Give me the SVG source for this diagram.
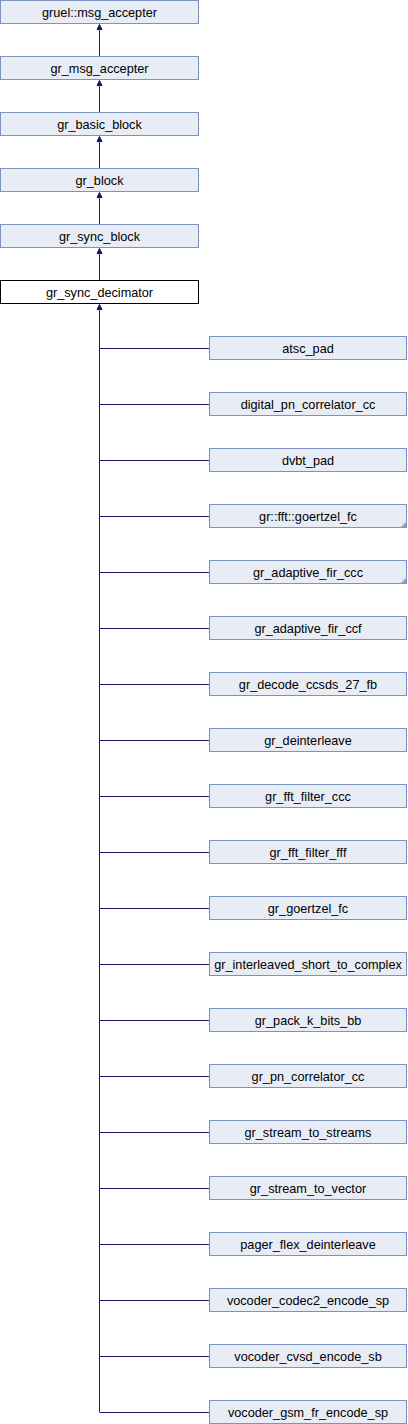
<svg xmlns="http://www.w3.org/2000/svg" width="408" height="1424" viewBox="0 0 408 1424">
<style>
.n{fill:#e8ecf4;stroke:#7b93c3;stroke-width:1}
.m{fill:#ffffff;stroke:#000000;stroke-width:1}
.t{font-family:"Liberation Sans",Arial,sans-serif;font-size:12.7px;fill:#000;text-anchor:middle}
.e{stroke:#191970;stroke-width:1;fill:none}
.a{fill:#191970;stroke:#191970}
.c{fill:#8ca0c8;stroke:none}
</style>
<rect width="408" height="1424" fill="#ffffff"/>
<g id="edges">
<path class="e" d="M99.5,57V30M99.5,113V86M99.5,169V142M99.5,225V198M99.5,281V254M99.5,1412V310"/>
<polygon class="a" points="99.5,24.5 97,29.5 102,29.5"/>
<polygon class="a" points="99.5,80.5 97,85.5 102,85.5"/>
<polygon class="a" points="99.5,136.5 97,141.5 102,141.5"/>
<polygon class="a" points="99.5,192.5 97,197.5 102,197.5"/>
<polygon class="a" points="99.5,248.5 97,253.5 102,253.5"/>
<polygon class="a" points="99.5,304.5 97,309.5 102,309.5"/>
<path class="e" d="M99.5,348.5H209M99.5,404.5H209M99.5,460.5H209M99.5,516.5H209M99.5,572.5H209M99.5,628.5H209M99.5,684.5H209M99.5,740.5H209M99.5,796.5H209M99.5,852.5H209M99.5,908.5H209M99.5,964.5H209M99.5,1020.5H209M99.5,1076.5H209M99.5,1132.5H209M99.5,1188.5H209M99.5,1244.5H209M99.5,1300.5H209M99.5,1356.5H209M99.5,1412.5H209"/>
</g>
<g id="n_gruel_msg_accepter"><rect class="n" x="0.5" y="0.5" width="198" height="23"/><text class="t" x="99.5" y="16.5">gruel::msg_accepter</text></g>
<g id="n_gr_msg_accepter"><rect class="n" x="0.5" y="56.5" width="198" height="23"/><text class="t" x="99.5" y="72.5">gr_msg_accepter</text></g>
<g id="n_gr_basic_block"><rect class="n" x="0.5" y="112.5" width="198" height="23"/><text class="t" x="99.5" y="128.5">gr_basic_block</text></g>
<g id="n_gr_block"><rect class="n" x="0.5" y="168.5" width="198" height="23"/><text class="t" x="99.5" y="184.5">gr_block</text></g>
<g id="n_gr_sync_block"><rect class="n" x="0.5" y="224.5" width="198" height="23"/><text class="t" x="99.5" y="240.5">gr_sync_block</text></g>
<g id="n_gr_sync_decimator"><rect class="m" x="0.5" y="280.5" width="198" height="23"/><text class="t" x="99.5" y="296.5">gr_sync_decimator</text></g>
<g id="n_atsc_pad"><rect class="n" x="209.5" y="336.5" width="197" height="23"/><text class="t" x="308" y="352.5">atsc_pad</text></g>
<g id="n_digital_pn_correlator_cc"><rect class="n" x="209.5" y="392.5" width="197" height="23"/><text class="t" x="308" y="408.5">digital_pn_correlator_cc</text></g>
<g id="n_dvbt_pad"><rect class="n" x="209.5" y="448.5" width="197" height="23"/><text class="t" x="308" y="464.5">dvbt_pad</text></g>
<g id="n_gr_fft_goertzel_fc"><rect class="n" x="209.5" y="504.5" width="197" height="23"/><polygon class="c" points="406,522 406,527 401,527"/><text class="t" x="308" y="520.5">gr::fft::goertzel_fc</text></g>
<g id="n_gr_adaptive_fir_ccc"><rect class="n" x="209.5" y="560.5" width="197" height="23"/><polygon class="c" points="406,578 406,583 401,583"/><text class="t" x="308" y="576.5">gr_adaptive_fir_ccc</text></g>
<g id="n_gr_adaptive_fir_ccf"><rect class="n" x="209.5" y="616.5" width="197" height="23"/><text class="t" x="308" y="632.5">gr_adaptive_fir_ccf</text></g>
<g id="n_gr_decode_ccsds_27_fb"><rect class="n" x="209.5" y="672.5" width="197" height="23"/><text class="t" x="308" y="688.5">gr_decode_ccsds_27_fb</text></g>
<g id="n_gr_deinterleave"><rect class="n" x="209.5" y="728.5" width="197" height="23"/><text class="t" x="308" y="744.5">gr_deinterleave</text></g>
<g id="n_gr_fft_filter_ccc"><rect class="n" x="209.5" y="784.5" width="197" height="23"/><text class="t" x="308" y="800.5">gr_fft_filter_ccc</text></g>
<g id="n_gr_fft_filter_fff"><rect class="n" x="209.5" y="840.5" width="197" height="23"/><text class="t" x="308" y="856.5">gr_fft_filter_fff</text></g>
<g id="n_gr_goertzel_fc"><rect class="n" x="209.5" y="896.5" width="197" height="23"/><text class="t" x="308" y="912.5">gr_goertzel_fc</text></g>
<g id="n_gr_interleaved_short_to_complex"><rect class="n" x="209.5" y="952.5" width="197" height="23"/><text class="t" x="308" y="968.5">gr_interleaved_short_to_complex</text></g>
<g id="n_gr_pack_k_bits_bb"><rect class="n" x="209.5" y="1008.5" width="197" height="23"/><text class="t" x="308" y="1024.5">gr_pack_k_bits_bb</text></g>
<g id="n_gr_pn_correlator_cc"><rect class="n" x="209.5" y="1064.5" width="197" height="23"/><text class="t" x="308" y="1080.5">gr_pn_correlator_cc</text></g>
<g id="n_gr_stream_to_streams"><rect class="n" x="209.5" y="1120.5" width="197" height="23"/><text class="t" x="308" y="1136.5">gr_stream_to_streams</text></g>
<g id="n_gr_stream_to_vector"><rect class="n" x="209.5" y="1176.5" width="197" height="23"/><text class="t" x="308" y="1192.5">gr_stream_to_vector</text></g>
<g id="n_pager_flex_deinterleave"><rect class="n" x="209.5" y="1232.5" width="197" height="23"/><text class="t" x="308" y="1248.5">pager_flex_deinterleave</text></g>
<g id="n_vocoder_codec2_encode_sp"><rect class="n" x="209.5" y="1288.5" width="197" height="23"/><text class="t" x="308" y="1304.5">vocoder_codec2_encode_sp</text></g>
<g id="n_vocoder_cvsd_encode_sb"><rect class="n" x="209.5" y="1344.5" width="197" height="23"/><text class="t" x="308" y="1360.5">vocoder_cvsd_encode_sb</text></g>
<g id="n_vocoder_gsm_fr_encode_sp"><rect class="n" x="209.5" y="1400.5" width="197" height="23"/><text class="t" x="308" y="1416.5">vocoder_gsm_fr_encode_sp</text></g>
</svg>
